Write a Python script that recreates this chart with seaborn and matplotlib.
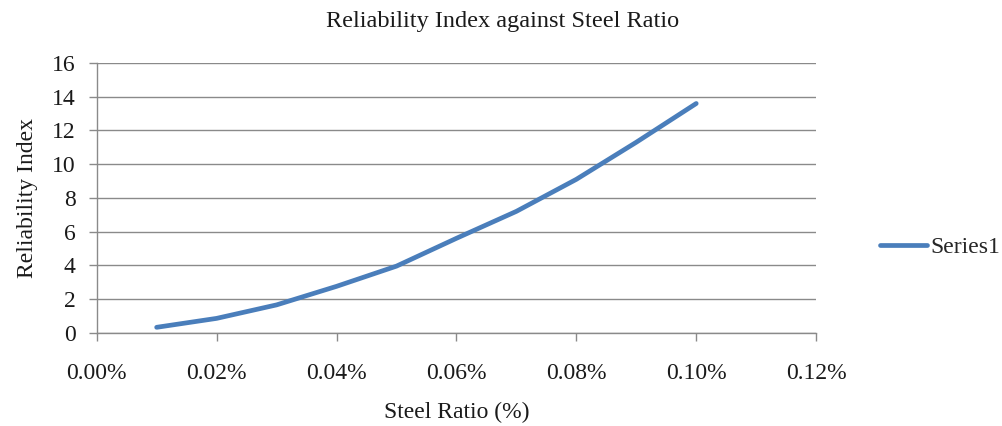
import matplotlib
matplotlib.use("Agg")
import matplotlib.pyplot as plt
import seaborn as sns
import pandas as pd
from matplotlib.ticker import FuncFormatter, MultipleLocator

# values
steel_ratio = [0.01, 0.02, 0.03, 0.04, 0.05, 0.06, 0.07, 0.08, 0.09, 0.10]
reliability = [0.32, 0.85, 1.65, 2.75, 3.95, 5.6, 7.2, 9.1, 11.3, 13.6]
series_name = "Series1"

df = pd.DataFrame({"Steel Ratio": steel_ratio, "Reliability Index": reliability, "Series": series_name})

sns.set_style("white")
plt.rcParams['font.family'] = ['Liberation Serif', 'DejaVu Serif']

fig = plt.figure(figsize=(10.02, 4.26), dpi=100)
ax = fig.add_axes([0.0965, 0.219, 0.718, 0.633])

sns.lineplot(data=df, x="Steel Ratio", y="Reliability Index", hue="Series",
             palette=["#4a7ebb"], linewidth=3.4, ax=ax, legend=True)
ax.lines[0].set_solid_capstyle('round')
ax.lines[0].set_solid_joinstyle('round')

ax.set_xlim(0, 0.12)
ax.set_ylim(0, 16)
ax.xaxis.set_major_locator(MultipleLocator(0.02))
ax.yaxis.set_major_locator(MultipleLocator(2))
ax.xaxis.set_major_formatter(FuncFormatter(lambda v, p: f"{v:.2f}%"))
ax.yaxis.set_major_formatter(FuncFormatter(lambda v, p: f"{v:.0f}"))

ax.grid(axis='y', color='#8a8a8a', linewidth=1)
ax.grid(axis='x', visible=False)
for s in ['top', 'right']:
    ax.spines[s].set_visible(False)
for s in ['left', 'bottom']:
    ax.spines[s].set_color('#8a8a8a')
    ax.spines[s].set_linewidth(1)
ax.tick_params(axis='both', direction='out', length=6, width=1, color='#8a8a8a',
               labelsize=17, labelcolor='#1a1a1a')
ax.tick_params(axis='x', pad=16, bottom=True)
ax.tick_params(axis='y', pad=9, left=True)

ax.set_xlabel("Steel Ratio (%)", fontsize=17, color='#1a1a1a', labelpad=13)
ax.set_ylabel("Reliability Index", fontsize=17, color='#1a1a1a', labelpad=10)
fig.suptitle("Reliability Index against Steel Ratio", fontsize=17.5, color='#1a1a1a', x=0.502, y=0.975)

handles, labels = ax.get_legend_handles_labels()
for h in handles:
    h.set_linewidth(3.4)
ax.legend(handles, labels, loc='center left', bbox_to_anchor=(0.8685, 0.42),
          bbox_transform=fig.transFigure, frameon=False, fontsize=17,
          handlelength=2.0, handletextpad=0.15, borderaxespad=0)

plt.savefig("out.png", dpi=100)
